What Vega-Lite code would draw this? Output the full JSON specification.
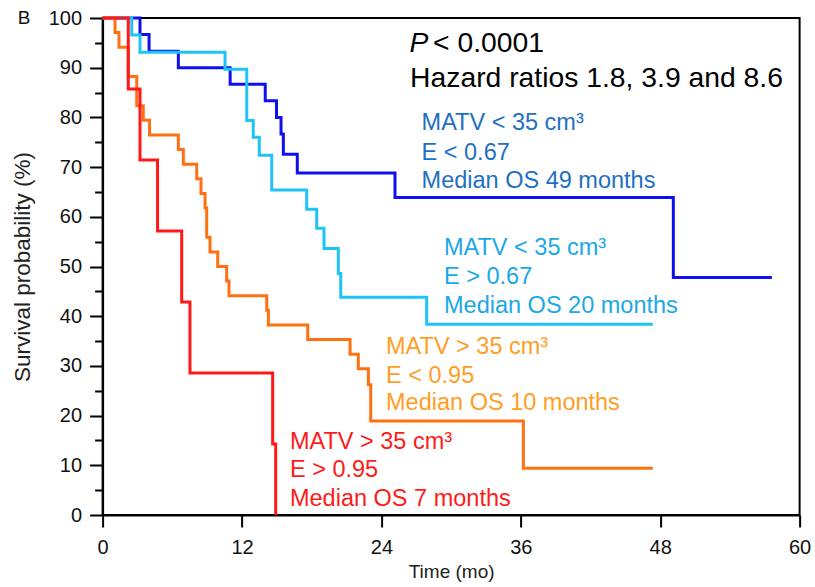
{
  "$schema": "https://vega.github.io/schema/vega-lite/v6.json",
  "width": 697,
  "height": 497,
  "autosize": {"type": "none"},
  "padding": {"left": 102.6, "top": 18, "right": 15.4, "bottom": 72},
  "config": {
    "font": "Liberation Sans",
    "view": {"stroke": "black", "strokeWidth": 2},
    "axis": {"grid": false}
  },
  "datasets": {
    "curves": [
      {"g": "g1", "t": 0, "s": 100}, {"g": "g1", "t": 3.22, "s": 96.67}, {"g": "g1", "t": 4.0, "s": 93.33},
      {"g": "g1", "t": 6.52, "s": 90.0}, {"g": "g1", "t": 10.98, "s": 86.67}, {"g": "g1", "t": 14.0, "s": 83.33},
      {"g": "g1", "t": 14.97, "s": 80.0}, {"g": "g1", "t": 15.36, "s": 76.67}, {"g": "g1", "t": 15.56, "s": 72.6},
      {"g": "g1", "t": 16.76, "s": 68.8}, {"g": "g1", "t": 25.17, "s": 63.9}, {"g": "g1", "t": 49.13, "s": 47.8},
      {"g": "g1", "t": 57.61, "s": 47.8},
      {"g": "g2", "t": 0, "s": 100}, {"g": "g2", "t": 2.51, "s": 96.6}, {"g": "g2", "t": 3.22, "s": 93.1},
      {"g": "g2", "t": 10.54, "s": 89.7}, {"g": "g2", "t": 12.41, "s": 79.4}, {"g": "g2", "t": 12.97, "s": 76.0},
      {"g": "g2", "t": 13.49, "s": 72.4}, {"g": "g2", "t": 14.56, "s": 65.4}, {"g": "g2", "t": 17.57, "s": 61.5},
      {"g": "g2", "t": 18.43, "s": 57.7}, {"g": "g2", "t": 19.06, "s": 53.6}, {"g": "g2", "t": 20.29, "s": 48.6},
      {"g": "g2", "t": 20.5, "s": 43.8}, {"g": "g2", "t": 27.9, "s": 38.4}, {"g": "g2", "t": 47.36, "s": 38.4},
      {"g": "g3", "t": 0, "s": 100}, {"g": "g3", "t": 1.07, "s": 97.06}, {"g": "g3", "t": 1.41, "s": 94.12},
      {"g": "g3", "t": 2.21, "s": 88.24}, {"g": "g3", "t": 2.94, "s": 82.35}, {"g": "g3", "t": 3.5, "s": 79.41},
      {"g": "g3", "t": 4.04, "s": 76.47}, {"g": "g3", "t": 6.52, "s": 73.53}, {"g": "g3", "t": 6.95, "s": 70.59},
      {"g": "g3", "t": 8.1, "s": 67.65}, {"g": "g3", "t": 8.47, "s": 64.71}, {"g": "g3", "t": 8.82, "s": 61.76},
      {"g": "g3", "t": 8.96, "s": 55.88}, {"g": "g3", "t": 9.25, "s": 52.94}, {"g": "g3", "t": 9.91, "s": 50.0},
      {"g": "g3", "t": 10.68, "s": 47.06}, {"g": "g3", "t": 10.88, "s": 44.12}, {"g": "g3", "t": 14.13, "s": 41.18},
      {"g": "g3", "t": 14.27, "s": 38.24}, {"g": "g3", "t": 17.66, "s": 35.29}, {"g": "g3", "t": 21.3, "s": 32.35},
      {"g": "g3", "t": 22.01, "s": 29.41}, {"g": "g3", "t": 22.88, "s": 26.2}, {"g": "g3", "t": 23.08, "s": 18.9},
      {"g": "g3", "t": 36.22, "s": 9.4}, {"g": "g3", "t": 47.36, "s": 9.4},
      {"g": "g4", "t": 0, "s": 100}, {"g": "g4", "t": 2.21, "s": 85.71}, {"g": "g4", "t": 3.22, "s": 71.43},
      {"g": "g4", "t": 4.73, "s": 57.14}, {"g": "g4", "t": 6.81, "s": 42.86}, {"g": "g4", "t": 7.52, "s": 28.57},
      {"g": "g4", "t": 14.64, "s": 14.29}, {"g": "g4", "t": 14.9, "s": 0}
    ],
    "notes": [
      {"g": "g1", "t": 27.46, "s": 78.81, "label": "MATV < 35 cm³"},
      {"g": "g1", "t": 27.46, "s": 72.9, "label": "E < 0.67"},
      {"g": "g1", "t": 27.46, "s": 67.26, "label": "Median OS 49 months"},
      {"g": "g2", "t": 29.39, "s": 53.66, "label": "MATV < 35 cm³"},
      {"g": "g2", "t": 29.39, "s": 47.83, "label": "E > 0.67"},
      {"g": "g2", "t": 29.39, "s": 42.05, "label": "Median OS 20 months"},
      {"g": "g3", "t": 24.4, "s": 33.86, "label": "MATV > 35 cm³"},
      {"g": "g3", "t": 24.4, "s": 28.03, "label": "E < 0.95"},
      {"g": "g3", "t": 24.4, "s": 22.47, "label": "Median OS 10 months"},
      {"g": "g4", "t": 16.13, "s": 14.75, "label": "MATV > 35 cm³"},
      {"g": "g4", "t": 16.13, "s": 9.05, "label": "E > 0.95"},
      {"g": "g4", "t": 16.13, "s": 3.22, "label": "Median OS 7 months"}
    ],
    "head": [
      {"kind": "p", "t": 26.42, "s": 94.7, "label": "P"},
      {"kind": "main", "t": 28.45, "s": 94.7, "label": "< 0.0001"},
      {"kind": "main", "t": 26.47, "s": 87.75, "label": "Hazard ratios 1.8, 3.9 and 8.6"},
      {"kind": "panel", "t": -7.3, "s": 100, "label": "B"}
    ]
  },
  "resolve": {"axis": {"y": "independent"}},
  "layer": [
    {
      "data": {"name": "curves"},
      "transform": [{"filter": "datum.g === 'g1'"}],
      "mark": {"type": "line", "interpolate": "step-after", "strokeWidth": 3, "color": "#1010ee", "clip": false},
      "encoding": {
        "x": {
          "field": "t", "type": "quantitative",
          "scale": {"domain": [0, 60], "nice": false, "zero": false},
          "axis": {
            "values": [0, 12, 24, 36, 48, 60], "title": "Time (mo)",
            "titleFontSize": 19, "titleFontWeight": "normal", "titleColor": "#222", "titlePadding": 5,
            "labelFontSize": 20, "labelColor": "#111", "labelPadding": 10, "labelFlush": false,
            "tickSize": 12, "tickWidth": 2, "tickColor": "black",
            "domainColor": "black", "domainWidth": 2
          }
        },
        "y": {
          "field": "s", "type": "quantitative",
          "scale": {"domain": [0, 100], "nice": false},
          "axis": {
            "orient": "left",
            "values": [0, 10, 20, 30, 40, 50, 60, 70, 80, 90, 100], "title": "Survival probability (%)",
            "titleFontSize": 22.5, "titleFontWeight": "normal", "titleColor": "#222", "titlePadding": 14,
            "labelFontSize": 20, "labelColor": "#111", "labelPadding": 8, "labelFlush": false,
            "tickSize": 13, "tickWidth": 2, "tickColor": "black",
            "domainColor": "black", "domainWidth": 2
          }
        }
      }
    },
    {
      "data": {"name": "curves"},
      "transform": [{"filter": "datum.g === 'g2'"}],
      "mark": {"type": "line", "interpolate": "step-after", "strokeWidth": 3, "color": "#1ec4f7", "clip": false},
      "encoding": {
        "x": {"field": "t", "type": "quantitative"},
        "y": {"field": "s", "type": "quantitative", "axis": null}
      }
    },
    {
      "data": {"name": "curves"},
      "transform": [{"filter": "datum.g === 'g3'"}],
      "mark": {"type": "line", "interpolate": "step-after", "strokeWidth": 3, "color": "#ff7012", "clip": false},
      "encoding": {
        "x": {"field": "t", "type": "quantitative"},
        "y": {"field": "s", "type": "quantitative", "axis": null}
      }
    },
    {
      "data": {"name": "curves"},
      "transform": [{"filter": "datum.g === 'g4'"}],
      "mark": {"type": "line", "interpolate": "step-after", "strokeWidth": 3, "color": "#ff1818", "clip": false},
      "encoding": {
        "x": {"field": "t", "type": "quantitative"},
        "y": {"field": "s", "type": "quantitative", "axis": null}
      }
    },
    {
      "data": {"name": "notes"},
      "mark": {"type": "text", "align": "left", "baseline": "middle", "fontSize": 23.5, "font": "Liberation Sans"},
      "encoding": {
        "x": {"field": "t", "type": "quantitative"},
        "y": {
          "field": "s", "type": "quantitative",
          "axis": {
            "orient": "left", "values": [5, 15, 25, 35, 45, 55, 65, 75, 85, 95],
            "labels": false, "domain": false, "title": null,
            "tickSize": 8, "tickWidth": 2, "tickColor": "black"
          }
        },
        "text": {"field": "label"},
        "color": {
          "field": "g", "type": "nominal",
          "scale": {"domain": ["g1", "g2", "g3", "g4"], "range": ["#1f70c4", "#1aa8e8", "#ff9e24", "#ff1a1a"]},
          "legend": null
        }
      }
    },
    {
      "data": {"name": "head"},
      "transform": [{"filter": "datum.kind === 'main'"}],
      "mark": {"type": "text", "align": "left", "baseline": "middle", "fontSize": 28.3, "color": "black", "font": "Liberation Sans"},
      "encoding": {
        "x": {"field": "t", "type": "quantitative"},
        "y": {"field": "s", "type": "quantitative", "axis": null},
        "text": {"field": "label"}
      }
    },
    {
      "data": {"name": "head"},
      "transform": [{"filter": "datum.kind === 'p'"}],
      "mark": {"type": "text", "align": "left", "baseline": "middle", "fontSize": 28.3, "fontStyle": "italic", "color": "black", "font": "Liberation Sans"},
      "encoding": {
        "x": {"field": "t", "type": "quantitative"},
        "y": {"field": "s", "type": "quantitative", "axis": null},
        "text": {"field": "label"}
      }
    },
    {
      "data": {"name": "head"},
      "transform": [{"filter": "datum.kind === 'panel'"}],
      "mark": {"type": "text", "align": "left", "baseline": "middle", "fontSize": 19, "color": "#111", "font": "Liberation Sans"},
      "encoding": {
        "x": {"field": "t", "type": "quantitative"},
        "y": {"field": "s", "type": "quantitative", "axis": null},
        "text": {"field": "label"}
      }
    }
  ]
}
